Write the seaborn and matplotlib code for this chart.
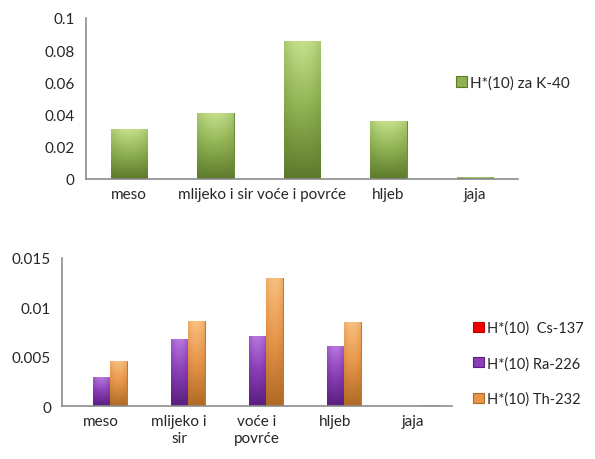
import numpy as np
import pandas as pd
import matplotlib
matplotlib.use("Agg")
import matplotlib.pyplot as plt
import seaborn as sns
from matplotlib.colors import LinearSegmentedColormap

# Food categories
kategorije = ["meso", "mlijeko i sir", "voće i povrće", "hljeb", "jaja"]
kategorije_2 = ["meso", "mlijeko i\nsir", "voće i\npovrće", "hljeb", "jaja"]

# Ambient dose equivalent H*(10) per food group
k40 = [0.031, 0.041, 0.086, 0.036, 0.001]
cs137 = [0.00005, 0.00005, 0.00005, 0.00005, 0.00005]
ra226 = [0.0029, 0.0068, 0.0071, 0.0061, 0.00005]
th232 = [0.0046, 0.0086, 0.0130, 0.0085, 0.00008]

serije = ["H*(10)  Cs-137", "H*(10) Ra-226", "H*(10) Th-232"]
k40_label = "H*(10) za K-40"

top_ticks = [0, 0.02, 0.04, 0.06, 0.08, 0.1]
top_ticklabels = ["0", "0.02", "0.04", "0.06", "0.08", "0.1"]
bot_ticks = [0, 0.005, 0.01, 0.015]
bot_ticklabels = ["0", "0.005", "0.01", "0.015"]

sns.set_style("white")
plt.rcParams["font.family"] = ["Lato", "DejaVu Sans"]
plt.rcParams["font.size"] = 11

fig = plt.figure(figsize=(5.95, 4.6), dpi=100)
ax1 = fig.add_axes([0.1445, 0.6087, 0.7261, 0.35])
ax2 = fig.add_axes([0.1042, 0.1152, 0.6555, 0.3218])

green = "#8fb152"
palette = ["#ee0000", "#8a3fb5", "#e6954a"]
shades = {
    green: ("#c4e08c", "#5d7a2c"),
    "#ee0000": ("#ff5050", "#c00000"),
    "#8a3fb5": ("#b778e0", "#5a1e80"),
    "#e6954a": ("#f7c080", "#b06a25"),
}


def gradient_bars(ax, colors):
    """Paint each bar with a vertical light-to-dark gradient."""
    for patch, col in zip(ax.patches, colors):
        light, dark = shades[col]
        cmap = LinearSegmentedColormap.from_list("g", [dark, col, light])
        x0, y0 = patch.get_x(), patch.get_y()
        w, h = patch.get_width(), patch.get_height()
        if h <= 0:
            continue
        grad = np.linspace(0, 1, 64).reshape(-1, 1)
        horiz = 1 - 0.25 * np.abs(np.linspace(-1, 1, 32)) ** 2
        img = grad * horiz.reshape(1, -1)
        im = ax.imshow(img, cmap=cmap, vmin=0, vmax=1, origin="lower",
                       extent=[x0, x0 + w, y0, y0 + h], aspect="auto",
                       zorder=patch.get_zorder() + 0.1)
        im.set_clip_path(patch)
        patch.set_edgecolor(dark)
        patch.set_linewidth(0.6)


def style_legend(leg, colors):
    for handle, col in zip(leg.legend_handles, colors):
        handle.set_facecolor(col)
        handle.set_edgecolor(shades[col][1])
        handle.set_linewidth(0.8)


def style_axes(ax, ticks, ticklabels, ymax, n):
    ax.set_xlim(-0.5, n - 0.5)
    ax.set_ylim(0, ymax)
    ax.set_yticks(ticks)
    ax.set_yticklabels(ticklabels)
    for s in ["top", "right"]:
        ax.spines[s].set_visible(False)
    for s in ["left", "bottom"]:
        ax.spines[s].set_color("#8c8c8c")
        ax.spines[s].set_linewidth(1.2)
    ax.set_xticks(np.arange(-0.5, n, 1.0), minor=True)
    ax.tick_params(axis="x", which="major", length=0, pad=6)
    ax.tick_params(axis="x", which="minor", length=4, color="#8c8c8c",
                   direction="out", width=1.0)
    ax.tick_params(axis="y", length=4, color="#8c8c8c", direction="out",
                   width=1.0, pad=4)
    ax.set_xlabel("")
    ax.set_ylabel("")


# Upper chart: K-40
df1 = pd.DataFrame({"kategorija": kategorije, "H10": k40})
sns.barplot(data=df1, x="kategorija", y="H10", color=green, width=0.42,
            label=k40_label, ax=ax1, saturation=1)
gradient_bars(ax1, [green] * len(k40))
style_axes(ax1, top_ticks, top_ticklabels, 0.1, len(kategorije))
leg1 = ax1.legend(loc="center left", bbox_to_anchor=(0.842, 0.6),
                  frameon=False, handlelength=0.7, handleheight=0.7,
                  handletextpad=0.25, borderaxespad=0)
style_legend(leg1, [green])

# Lower chart: Cs-137, Ra-226, Th-232
df2 = pd.DataFrame({
    "kategorija": kategorije_2 * 3,
    "H10": cs137 + ra226 + th232,
    "serija": [s for s in serije for _ in kategorije_2],
})
sns.barplot(data=df2, x="kategorija", y="H10", hue="serija",
            palette=palette, width=0.68, gap=0.06, ax=ax2, saturation=1)
bar_colors = [c for c in palette for _ in kategorije_2]
gradient_bars(ax2, bar_colors)
style_axes(ax2, bot_ticks, bot_ticklabels, 0.015, len(kategorije_2))
leg2 = ax2.legend(loc="center left", bbox_to_anchor=(1.04, 0.29),
                  frameon=False, handlelength=0.7, handleheight=0.7,
                  handletextpad=0.25, labelspacing=1.45, borderaxespad=0,
                  title=None, fontsize=10.5)
style_legend(leg2, palette)

fig.savefig("out.png", dpi=100)
